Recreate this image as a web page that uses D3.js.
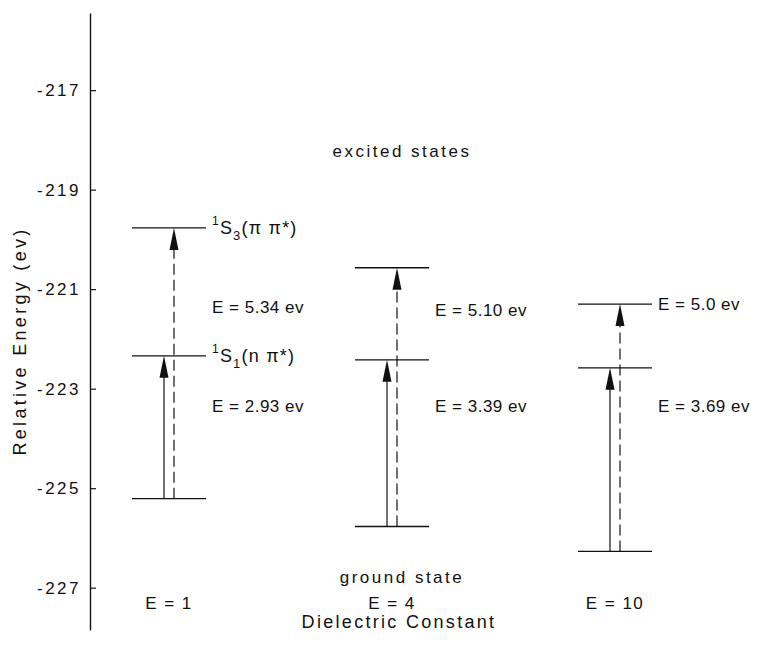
<!DOCTYPE html>
<html>
<head>
<meta charset="utf-8">
<script src="https://cdn.jsdelivr.net/npm/d3@7"></script>
<style>
  body { margin: 0; background: #fff; }
  text { font-family: "Liberation Sans", Arial, sans-serif; fill: #111; }
</style>
</head>
<body>
<svg id="chart" width="758" height="651"></svg>
<script>
// energy levels (ev)
const dielectric = ["E = 1", "E = 4", "E = 10"];
const groundState = [-225.21, -225.77, -226.27];
const s1State = [-222.34, -222.42, -222.58];
const s3State = [-219.77, -220.57, -221.30];
const s1Gap = ["E = 2.93 ev", "E = 3.39 ev", "E = 3.69 ev"];
const s3Gap = ["E = 5.34 ev", "E = 5.10 ev", "E = 5.0 ev"];
const yTicks = [-217, -219, -221, -223, -225, -227];

const svg = d3.select("#chart");
const ink = "#111";

const y = d3.scaleLinear().domain([-227.85, -215.45]).range([630, 13]);
const x = d3.scalePoint().domain(dielectric).range([169, 615]);
const half = 37;

// y axis, ticks pointing inwards
const axis = svg.append("g")
  .attr("transform", "translate(90,0)")
  .call(d3.axisLeft(y).tickValues(yTicks).tickSizeInner(-6).tickSizeOuter(0).tickPadding(9)
    .tickFormat(d => "-" + Math.abs(d)));
axis.select(".domain").attr("stroke", ink).attr("stroke-width", 1.4);
axis.selectAll(".tick line").attr("stroke", ink).attr("stroke-width", 1.2);
axis.selectAll(".tick text")
  .attr("font-size", 17).attr("letter-spacing", 2.5).attr("fill", ink)
  .attr("font-family", "'Liberation Sans', Arial, sans-serif");

svg.append("text")
  .attr("transform", "translate(26,341) rotate(-90)")
  .attr("text-anchor", "middle").attr("font-size", 18).attr("letter-spacing", 3.3)
  .text("Relative Energy (ev)");

svg.append("text")
  .attr("x", 399).attr("y", 628)
  .attr("text-anchor", "middle").attr("font-size", 18).attr("letter-spacing", 2.3)
  .text("Dielectric Constant");

// level lines
const levels = [];
dielectric.forEach((d, i) => {
  [groundState[i], s1State[i], s3State[i]].forEach(v => levels.push({ d, v }));
});
svg.append("g")
  .selectAll("line")
  .data(levels)
  .join("line")
  .attr("x1", l => x(l.d) - half)
  .attr("x2", l => x(l.d) + half)
  .attr("y1", l => y(l.v))
  .attr("y2", l => y(l.v))
  .attr("stroke", ink)
  .attr("stroke-width", 1.3);

// arrows: solid to S1, dashed to S3
const arrows = [];
dielectric.forEach((d, i) => {
  arrows.push({ d, from: groundState[i], to: s1State[i], dx: -5, dash: null });
  arrows.push({ d, from: groundState[i], to: s3State[i], dx: 5, dash: "11,5" });
});
const headLen = 22, headW = 4.5;

const arrowG = svg.append("g");
arrowG.selectAll("line")
  .data(arrows)
  .join("line")
  .attr("x1", a => x(a.d) + a.dx)
  .attr("x2", a => x(a.d) + a.dx)
  .attr("y1", a => y(a.from))
  .attr("y2", a => y(a.to) + headLen - 2)
  .attr("stroke", ink)
  .attr("stroke-width", 1.2)
  .attr("stroke-dasharray", a => a.dash);

arrowG.selectAll("path")
  .data(arrows)
  .join("path")
  .attr("d", a => {
    const ax = x(a.d) + a.dx, ty = y(a.to);
    return `M${ax},${ty} L${ax - headW},${ty + headLen} L${ax + headW},${ty + headLen} Z`;
  })
  .attr("fill", ink);

// gap labels
const labelRow = { upper: [313, 316, 310], lower: 412 };
const labelG = svg.append("g").attr("font-size", 17).attr("letter-spacing", 0.5);
labelG.selectAll("text.up")
  .data(s3Gap)
  .join("text")
  .attr("class", "up")
  .attr("x", (t, i) => x(dielectric[i]) + half + 6)
  .attr("y", (t, i) => labelRow.upper[i])
  .text(t => t);
labelG.selectAll("text.low")
  .data(s1Gap)
  .join("text")
  .attr("class", "low")
  .attr("x", (t, i) => x(dielectric[i]) + half + 6)
  .attr("y", labelRow.lower)
  .text(t => t);

// state labels for E = 1
function stateLabel(v, sub, inner) {
  const t = svg.append("text")
    .attr("x", x(dielectric[0]) + half + 6)
    .attr("y", y(v) + 6)
    .attr("font-size", 18)
    .attr("letter-spacing", 1.2);
  t.append("tspan").attr("font-size", 12).attr("dy", -9).text("1");
  t.append("tspan").attr("dy", 9).text("S");
  t.append("tspan").attr("font-size", 13).attr("dy", 6).text(sub);
  t.append("tspan").attr("dy", -6).text(inner);
}
stateLabel(s3State[0], "3", "(π π*)");
stateLabel(s1State[0], "1", "(n π*)");

// region and condition labels
svg.append("text").attr("x", 402).attr("y", 157).attr("text-anchor", "middle")
  .attr("font-size", 17).attr("letter-spacing", 2.5).text("excited states");
svg.append("text").attr("x", 402).attr("y", 583).attr("text-anchor", "middle")
  .attr("font-size", 17).attr("letter-spacing", 2.5).text("ground state");

svg.append("g")
  .selectAll("text")
  .data(dielectric)
  .join("text")
  .attr("x", d => x(d))
  .attr("y", 609)
  .attr("text-anchor", "middle")
  .attr("font-size", 17)
  .attr("letter-spacing", 1.5)
  .text(d => d);
</script>
</body>
</html>
